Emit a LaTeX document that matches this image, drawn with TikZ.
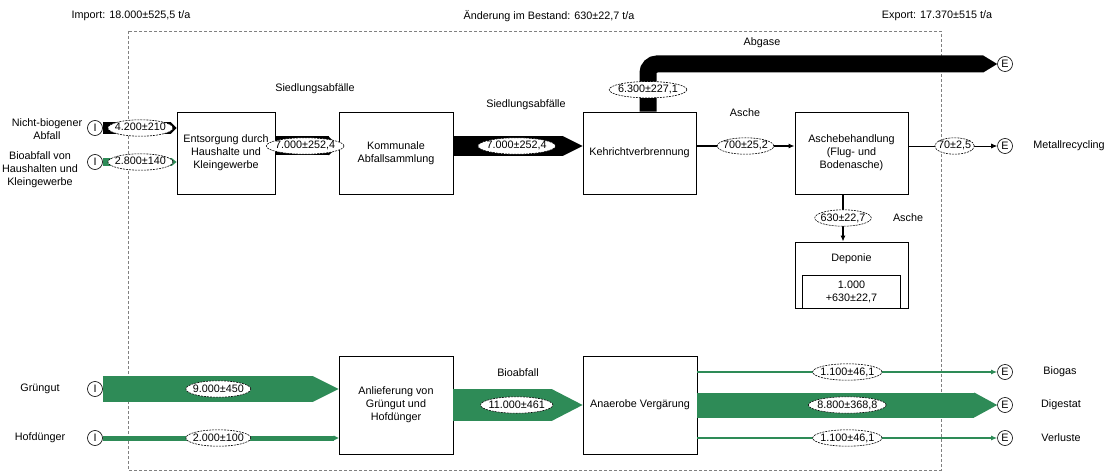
\documentclass[tikz,border=0pt]{standalone}
\usepackage{fontspec}
\setmainfont{Liberation Sans}
\usepackage{tikz}
\usetikzlibrary{positioning, arrows.meta, shapes.geometric}

\definecolor{flowgreen}{RGB}{46,139,87}

\tikzset{
    proc/.style={draw, line width=0.8pt, align=center, inner sep=2pt},
    term/.style={circle, draw=black, line width=0.6pt, fill=white, text=black, inner sep=0pt, minimum size=15pt},
    flowlbl/.style={ellipse, draw=black, text=black, dash pattern=on 2pt off 1pt, line width=0.6pt, fill=white,
        inner xsep=-2.5pt, inner ysep=0.8pt, text height=8pt, text depth=2pt},
    band/.style n args={2}{line width=#1, -{Triangle[length=#2, width=0pt 1, line width=0pt]}},
    thinflow/.style={line width=#1, -{Latex[length=6pt, width=5pt]}},
    boundary/.style={gray, line width=0.7pt, dash pattern=on 3pt off 2pt}
}

\begin{document}
\begin{tikzpicture}[x=1pt, y=-1pt, font=\fontsize{10.8}{13}\selectfont]
    \useasboundingbox (0,0) rectangle (1109,476);
    \draw[boundary] (128,31) rectangle (941,470);
    \node at (131,16) {Import: 18.000±525,5 t/a};
    \node at (549,16) {Änderung im Bestand: 630±22,7 t/a};
    \node at (937,16) {Export: 17.370±515 t/a};

    % Prozesse
    \node[proc, minimum width=98pt, minimum height=82pt] (ents) at (226,153) {Entsorgung durch\\Haushalte und\\Kleingewerbe};
    \node[proc, minimum width=114pt, minimum height=82pt] (komm) at (396,153) {Kommunale\\Abfallsammlung};
    \node[proc, minimum width=113pt, minimum height=82pt] (kvb) at (639.5,153) {Kehrichtverbrennung};
    \node[proc, minimum width=113pt, minimum height=82pt] (asch) at (851.5,153) {Aschebehandlung\\(Flug- und\\Bodenasche)};
    \node[proc, minimum width=113pt, minimum height=66pt] (dep) at (851.5,275) {};
    \node (deptxt) at (dep.north |- 0,259) {Deponie};
    \node[proc, line width=0.6pt, minimum width=98pt, minimum height=33pt, anchor=south] (depstk) at (dep.south) {1.000\\+630±22,7};
    \node[proc, minimum width=114pt, minimum height=98pt] (anl) at (396,405) {Anlieferung von\\Grüngut und\\Hofdünger};
    \node[proc, minimum width=114pt, minimum height=98pt] (anv) at (640,405) {Anaerobe Vergärung};

    % Import / Export
    \foreach \nm/\px/\py/\tx in {iNbio/95/128/I, iBio/95/162/I, iGru/95/389/I, iHof/95/438/I,
            eAbg/1005/64/E, eMet/1005/146/E, eBgs/1005/372/E, eDig/1005/405/E, eVer/1005/438/E}
        \node[term] (\nm) at (\px,\py) {\tx};

    \node[align=center] at (47,129) {Nicht-biogener\\Abfall};
    \node[align=center] at (40,170) {Bioabfall von\\Haushalten und\\Kleingewerbe};
    \node at (40,389) {Grüngut};
    \node at (40,438) {Hofdünger};
    \node at (1069,146) {Metallrecycling};
    \node at (1060,372) {Biogas};
    \node at (1061,405) {Digestat};
    \node at (1061,438) {Verluste};

    \coordinate (topline) at (0,146);
    \coordinate (botline) at (0,405);
    \coordinate (abgx) at (648,0);
    \coordinate (depx) at (843,0);

    % Fluesse
    \draw[band={12pt}{6pt}] (iNbio) -- (iNbio -| ents.west) node[flowlbl, pos=.51] {4.200±210};
    \draw[band={8pt}{5pt}, flowgreen] (iBio) -- (iBio -| ents.west) node[flowlbl, pos=.51] {2.800±140};
    \draw[band={19pt}{10pt}] (ents.east |- topline) -- (komm.west |- topline) node[flowlbl, pos=.47] {7.000±252,4};
    \draw[band={20pt}{20pt}] (komm.east |- topline) -- (kvb.west |- topline) node[flowlbl, pos=.49] {7.000±252,4};
    \draw[band={17pt}{14pt}, rounded corners=9pt] (kvb.north -| abgx) |- (eAbg) node[flowlbl, pos=.23] {6.300±227,1};
    \draw[thinflow=1.6pt] (kvb.east |- topline) -- (asch.west |- topline) node[flowlbl, pos=.5] {700±25,2};
    \draw[thinflow=0.8pt] (asch.east |- topline) -- (eMet) node[flowlbl, pos=.52] {70±2,5};
    \draw[thinflow=1.2pt] (asch.south -| depx) -- (dep.north -| depx) node[flowlbl, pos=.5] {630±22,7};

    \draw[band={26pt}{26pt}, flowgreen] (iGru) -- (anl.west |- iGru) node[flowlbl, pos=.49] {9.000±450};
    \draw[band={5pt}{5pt}, flowgreen] (iHof) -- (anl.west |- iHof) node[flowlbl, pos=.49] {2.000±100};
    \draw[band={32pt}{31pt}, flowgreen] (anl.east |- botline) -- (anv.west |- botline) node[flowlbl, pos=.49] {11.000±461};
    \draw[thinflow=1.6pt, flowgreen] (anv.east |- eBgs) -- (eBgs) node[flowlbl, pos=.5] {1.100±46,1};
    \draw[band={25pt}{23pt}, flowgreen] (anv.east |- eDig) -- (eDig) node[flowlbl, pos=.5] {8.800±368,8};
    \draw[thinflow=1.6pt, flowgreen] (anv.east |- eVer) -- (eVer) node[flowlbl, pos=.5] {1.100±46,1};

    \node at (315,89) {Siedlungsabfälle};
    \node at (526,105) {Siedlungsabfälle};
    \node at (762,43) {Abgase};
    \node at (745,113) {Asche};
    \node at (908,218) {Asche};
    \node at (518,373) {Bioabfall};
\end{tikzpicture}
\end{document}
